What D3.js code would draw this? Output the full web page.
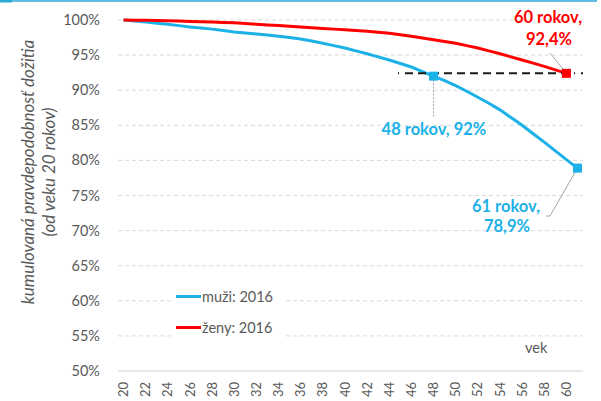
<!DOCTYPE html>
<html>
<head>
<meta charset="utf-8">
<script src="https://cdn.jsdelivr.net/npm/d3@7"></script>
<style>
  body { margin: 0; background: #fff; }
  svg { display: block; font-family: Lato, "Open Sans", sans-serif; }
</style>
</head>
<body>
<svg id="chart" width="601" height="401"></svg>
<script>
// vek (roky)
let ages = d3.range(20, 62);
// muzi: 2016 (%), vek 20..61
let muzi = [100.0, 99.85, 99.7, 99.55, 99.4, 99.2, 99.0, 98.85, 98.7, 98.5,
    98.3, 98.15, 98.0, 97.85, 97.7, 97.5, 97.3, 97.0, 96.7, 96.35,
    96.0, 95.6, 95.2, 94.75, 94.3, 93.8, 93.3, 92.65, 92.0, 91.35,
    90.65, 89.85, 89.0, 88.15, 87.2, 86.1, 85.0, 83.8, 82.6, 81.35,
    80.1, 78.9];
// zeny: 2016 (%), vek 20..60
let zeny = [100.0, 99.98, 99.95, 99.92, 99.9, 99.85, 99.8, 99.75, 99.7, 99.65,
    99.6, 99.5, 99.4, 99.3, 99.2, 99.1, 99.0, 98.9, 98.8, 98.7,
    98.6, 98.5, 98.4, 98.25, 98.1, 97.9, 97.7, 97.45, 97.2, 96.95,
    96.7, 96.35, 96.0, 95.6, 95.2, 94.75, 94.3, 93.85, 93.4, 92.9,
    92.4];
let yTicks = [50, 55, 60, 65, 70, 75, 80, 85, 90, 95, 100];
let xTickAges = d3.range(20, 61, 2);
let seriesNames = ["muži: 2016", "ženy: 2016"];
// zvyraznene body
let markMuzi = [{age: 48, val: 92.0}, {age: 61, val: 78.9}];
let markZeny = [{age: 60, val: 92.4}];
let refLevel = 92.4;

let blue = "#1cb1e7", red = "#ff0000", grey = "#595959";

let svg = d3.select("#chart");
let x = d3.scaleBand().domain(ages).range([118, 583]);
let xc = a => x(a) + x.bandwidth() / 2;
let y = d3.scaleLinear().domain([50, 100]).range([371, 20]);

// top border
svg.append("line").attr("x1", 0).attr("x2", 597).attr("y1", 1).attr("y2", 1)
    .attr("stroke", "#2aa8d6").attr("stroke-width", 1.5);
svg.append("rect").attr("x", 0).attr("y", 0).attr("width", 12).attr("height", 2.5).attr("fill", "#2aa8d6");

// grid
svg.append("g").selectAll("line").data(yTicks.filter(d => d > 50)).enter().append("line")
    .attr("x1", 118).attr("x2", 583).attr("y1", d => y(d)).attr("y2", d => y(d))
    .attr("stroke", "#d9d9d9").attr("stroke-width", 1).attr("stroke-dasharray", "4,3");
svg.append("line").attr("x1", 118).attr("x2", 583).attr("y1", y(50)).attr("y2", y(50))
    .attr("stroke", "#d0d0d0").attr("stroke-width", 1);

// y labels
svg.append("g").selectAll("text").data(yTicks).enter().append("text")
    .attr("x", 100).attr("y", d => y(d)).attr("dy", "0.35em").attr("text-anchor", "end")
    .attr("font-size", 14.5).attr("fill", grey).text(d => d + "%");

// x labels
svg.append("g").selectAll("text").data(xTickAges).enter().append("text")
    .attr("transform", d => "translate(" + xc(d) + ",382) rotate(-90)")
    .attr("text-anchor", "end").attr("dy", "0.35em")
    .attr("font-size", 13).attr("fill", grey).text(d => d);

// axis titles
let yt = svg.append("text").attr("transform", "translate(0,172) rotate(-90)")
    .attr("text-anchor", "middle").attr("font-size", 17).attr("font-style", "italic").attr("fill", grey);
yt.append("tspan").attr("x", 0).attr("y", 34).text("kumulovaná pravdepodobnosť dožitia");
yt.append("tspan").attr("x", 0).attr("y", 55).text("(od veku 20 rokov)");
svg.append("text").attr("x", 525).attr("y", 353).attr("font-size", 14.5).attr("fill", grey).text("vek");

// legend
svg.append("rect").attr("x", 172).attr("y", 284).attr("width", 112).attr("height", 54).attr("fill", "#fff");
let legend = svg.append("g").selectAll("g").data(seriesNames).enter().append("g")
    .attr("transform", (d, i) => "translate(176," + (296.5 + i * 31) + ")");
legend.append("line").attr("x1", 0).attr("x2", 25).attr("stroke", (d, i) => i ? red : blue).attr("stroke-width", 3);
legend.append("text").attr("x", 26).attr("dy", "0.35em").attr("font-size", 14.5).attr("fill", grey).text(d => d);

// lines
let line = d3.line().x((d, i) => xc(ages[i])).y(d => y(d));
svg.append("path").attr("d", line(muzi)).attr("fill", "none").attr("stroke", blue).attr("stroke-width", 3);
svg.append("path").attr("d", line(zeny)).attr("fill", "none").attr("stroke", red).attr("stroke-width", 3);

// reference dashed line
svg.append("line").attr("x1", 398).attr("x2", 583).attr("y1", y(refLevel)).attr("y2", y(refLevel))
    .attr("stroke", "#1a1a1a").attr("stroke-width", 2).attr("stroke-dasharray", "1,6,8,5,8,5,8,5,8,5,8,5,8,5,8,5,8,5,8,5,8,5,8,5,8,5,8,5");

// leader lines
let lead = svg.append("g").attr("fill", "none").attr("stroke", "#a6a6a6").attr("stroke-width", 1);
lead.append("path").attr("d", "M" + xc(48) + "," + y(92) + "V117").attr("stroke-dasharray", "2,1.5");
lead.append("path").attr("d", "M" + xc(60) + "," + y(92.4) + "L550,53");
lead.append("path").attr("d", "M" + xc(61) + "," + y(78.9) + "L550,216H546");

// markers
svg.append("g").selectAll("rect").data(markMuzi).enter().append("rect")
    .attr("x", d => xc(d.age) - 4.5).attr("y", d => y(d.val) - 4.5).attr("width", 9).attr("height", 9).attr("fill", blue);
svg.append("g").selectAll("rect").data(markZeny).enter().append("rect")
    .attr("x", d => xc(d.age) - 4.5).attr("y", d => y(d.val) - 4.5).attr("width", 9).attr("height", 9).attr("fill", red);

// annotations
let ann = svg.append("g").attr("font-size", 16.5).attr("font-weight", "bold").attr("text-anchor", "middle");
ann.append("text").attr("x", 548).attr("y", 23).attr("fill", red).text("60 rokov,");
ann.append("text").attr("x", 549).attr("y", 45).attr("fill", red).text("92,4%");
ann.append("text").attr("x", 434).attr("y", 135).attr("fill", blue).text("48 rokov, 92%");
ann.append("text").attr("x", 506).attr("y", 212).attr("fill", blue).text("61 rokov,");
ann.append("text").attr("x", 507).attr("y", 232).attr("fill", blue).text("78,9%");
</script>
</body>
</html>
